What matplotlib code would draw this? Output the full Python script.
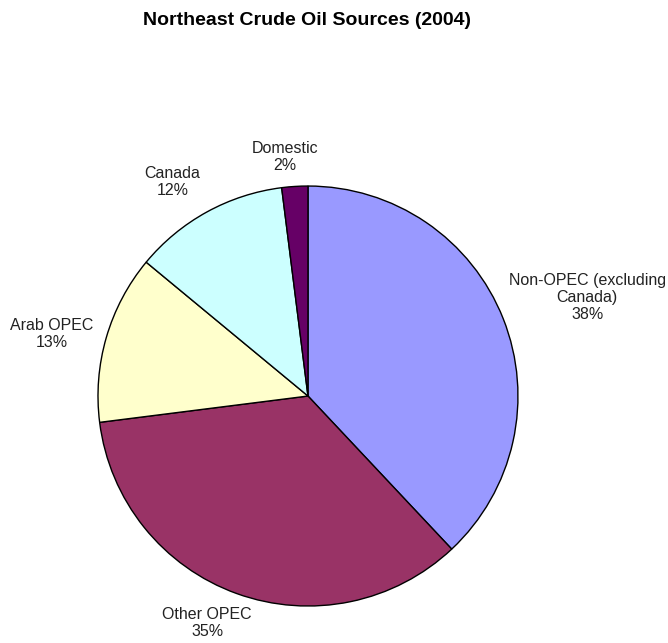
import matplotlib
matplotlib.use('Agg')
from matplotlib import pyplot as plt

# data
sources = ['Non-OPEC (excluding\nCanada)', 'Other OPEC', 'Arab OPEC', 'Canada', 'Domestic']
shares = [38, 35, 13, 12, 2]
colors = ['#9999FF', '#993366', '#FFFFCC', '#CCFFFF', '#660066']
# label anchor positions in pie units (radius = 1)
label_pos = [(1.33, 0.47), (-0.48, -1.08), (-1.22, 0.295), (-0.645, 1.02), (-0.11, 1.14)]

fig = plt.figure(figsize=(6.68, 6.43), dpi=100)
fig.text(0.46, 0.968, 'Northeast Crude Oil Sources (2004)', ha='center', va='center',
         fontsize=14, fontweight='bold', family='Liberation Sans')

ax = fig.add_axes([0.1467, 0.0575, 0.6287, 0.6532])
wedges, _ = ax.pie(shares, colors=colors, startangle=90, counterclock=False,
                   wedgeprops=dict(edgecolor='black', linewidth=1))
for w in wedges:
    w.set_clip_on(False)

for name, pct, (x, y) in zip(sources, shares, label_pos):
    ax.text(x, y, '%s\n%d%%' % (name, pct), ha='center', va='center', color='#222222',
            fontsize=11.5, family='Liberation Sans', linespacing=1.18)

ax.set_xlim(-1, 1)
ax.set_ylim(-1, 1)
ax.set_aspect('equal')

fig.savefig('out.png', dpi=100)
